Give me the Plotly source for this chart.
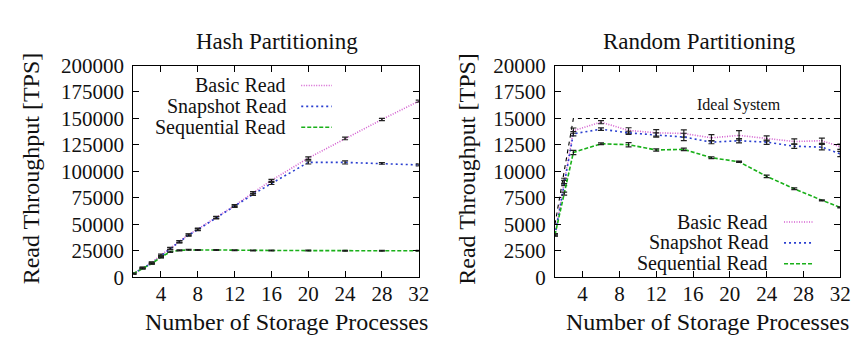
import plotly.graph_objects as go

# ---------------- data ----------------
hash_x = [1, 2, 3, 4, 5, 6, 7, 8, 10, 12, 14, 16, 20, 24, 28, 32]
hash_basic = [3500, 8800, 13800, 21000, 27300, 33700, 40200, 45500, 56600, 67700, 79800, 91500, 112600, 131100, 149000, 166300]
hash_basic_err = [600, 700, 800, 900, 900, 900, 900, 900, 1000, 1000, 1000, 1000, 1200, 1200, 1000, 1000]
hash_snap = [3500, 8600, 13300, 19500, 27000, 33400, 39800, 45000, 56200, 67000, 78300, 88600, 108500, 108500, 107600, 106100]
hash_snap_err = [600, 700, 800, 900, 900, 900, 900, 900, 1000, 1000, 1000, 1000, 1500, 1500, 800, 1000]
hash_seq = [3500, 8500, 13000, 19000, 24000, 25500, 26000, 25800, 25800, 25500, 25300, 25300, 25200, 25000, 25000, 25000]
hash_seq_err = [500, 500, 500, 600, 600, 500, 400, 400, 400, 400, 400, 400, 400, 400, 400, 400]

rand_x = [1, 2, 3, 6, 9, 12, 15, 18, 21, 24, 27, 30, 32]
rand_basic = [4000, 9100, 13850, 14650, 13870, 13640, 13580, 13170, 13400, 13110, 12820, 12900, 12320]
rand_basic_err = [100, 250, 250, 150, 250, 300, 350, 300, 450, 250, 250, 250, 250]
rand_snap = [4000, 8900, 13550, 13990, 13640, 13430, 13250, 12760, 12900, 12760, 12380, 12290, 11640]
rand_snap_err = [100, 250, 200, 120, 150, 200, 350, 150, 200, 200, 200, 250, 250]
rand_seq = [4000, 7900, 11790, 12610, 12520, 12020, 12080, 11290, 10910, 9530, 8360, 7270, 6600]
rand_seq_err = [100, 150, 200, 80, 200, 100, 120, 80, 60, 120, 80, 50, 50]

ideal_x = [1, 2, 3, 32]
ideal_y = [5000, 10000, 15000, 15000]

x_ticks = [4, 8, 12, 16, 20, 24, 28, 32]
hash_y_ticks = [0, 25000, 50000, 75000, 100000, 125000, 150000, 175000, 200000]
rand_y_ticks = [0, 2500, 5000, 7500, 10000, 12500, 15000, 17500, 20000]

series_names = ["Basic Read", "Snapshot Read", "Sequential Read"]
colors = ["#d45fd0", "#2a3fd0", "#19b019"]
dashes = ["1px,1.5px", "2px,3px", "4px,2px"]

FONT = "'Liberation Serif', 'Times New Roman', 'DejaVu Serif', serif"
W, H = 866, 337

fig = go.Figure()


def add_series(x, y, err, name, color, dash, xa, ya):
    fig.add_trace(go.Scatter(
        x=x, y=y, mode="lines", name=name, showlegend=False,
        line=dict(color=color, dash=dash, width=1.6),
        xaxis=xa, yaxis=ya))
    fig.add_trace(go.Scatter(
        x=x, y=y, mode="markers", showlegend=False,
        marker=dict(size=1, color="black"),
        error_y=dict(type="data", array=err, visible=True, color="#222222", thickness=1.2, width=3),
        xaxis=xa, yaxis=ya))


hash_sets = [(hash_basic, hash_basic_err), (hash_snap, hash_snap_err), (hash_seq, hash_seq_err)]
rand_sets = [(rand_basic, rand_basic_err), (rand_snap, rand_snap_err), (rand_seq, rand_seq_err)]
for (y, e), n, c, d in zip(hash_sets, series_names, colors, dashes):
    add_series(hash_x, y, e, n, c, d, "x", "y")

fig.add_trace(go.Scatter(x=ideal_x, y=ideal_y, mode="lines", showlegend=False,
                         line=dict(color="black", dash="4px,4px", width=1.1),
                         xaxis="x2", yaxis="y2"))
for (y, e), n, c, d in zip(rand_sets, series_names, colors, dashes):
    add_series(rand_x, y, e, n, c, d, "x2", "y2")

ydom = [(H - 277) / H, (H - 49) / H]
ax_common = dict(showgrid=False, zeroline=False, showline=True, linecolor="black", linewidth=1.2,
                 mirror="ticks", ticks="inside", ticklen=6, tickcolor="black", tickwidth=1,
                 tickformat="d",
                 tickfont=dict(family=FONT, size=21, color="#111111"))

fig.update_layout(
    width=W, height=H, margin=dict(l=0, r=0, t=0, b=0),
    plot_bgcolor="white", paper_bgcolor="white", showlegend=False,
    font=dict(family=FONT),
    xaxis=dict(domain=[127 / W, 416 / W], range=[1, 32], tickvals=x_ticks, anchor="y",
               ticklabelstandoff=-3, **ax_common),
    yaxis=dict(domain=ydom, range=[0, 200000], tickvals=hash_y_ticks, anchor="x",
               ticklabelstandoff=4, **ax_common),
    xaxis2=dict(domain=[554 / W, 843 / W], range=[1, 32], tickvals=x_ticks, anchor="y2",
                ticklabelstandoff=-3, **ax_common),
    yaxis2=dict(domain=ydom, range=[0, 20000], tickvals=rand_y_ticks, anchor="x2",
                ticklabelstandoff=4, **ax_common),
)

ann = []


def txt(x, y, s, size=23, xanchor="center", angle=0):
    ann.append(dict(x=x / W, y=1 - y / H, xref="paper", yref="paper", text=s, showarrow=False,
                    xanchor=xanchor, yanchor="middle", textangle=angle, borderpad=0,
                    font=dict(family=FONT, size=size, color="#111111")))


txt(272, 23, "Hash Partitioning")
txt(700, 23, "Random Partitioning")
txt(23, 160, "Read Throughput [TPS]", size=24, angle=-90)
txt(465, 160, "Read Throughput [TPS]", size=24, angle=-90)
txt(282, 325, "Number of Storage Processes", size=24)
txt(709, 325, "Number of Storage Processes", size=24)
ann.append(dict(x=21, y=16300, xref="x2", yref="y2", text="Ideal System", showarrow=False,
                xanchor="center", yanchor="middle", font=dict(family=FONT, size=16, color="#111111")))

shapes = []
left_rows = [70.5, 93, 115.5]
right_rows = [217.5, 240, 262.5]
for i in range(3):
    txt(283, left_rows[i], series_names[i], size=20, xanchor="right")
    shapes.append(dict(type="line", xref="paper", yref="paper",
                       x0=297 / W, x1=328 / W, y0=1 - left_rows[i] / H, y1=1 - left_rows[i] / H,
                       line=dict(color=colors[i], dash=dashes[i], width=1.6)))
    txt(771, right_rows[i], series_names[i], size=20, xanchor="right")
    shapes.append(dict(type="line", xref="paper", yref="paper",
                       x0=786 / W, x1=816 / W, y0=1 - right_rows[i] / H, y1=1 - right_rows[i] / H,
                       line=dict(color=colors[i], dash=dashes[i], width=1.6)))

fig.update_layout(annotations=ann, shapes=shapes)
fig.write_html("out.html")
